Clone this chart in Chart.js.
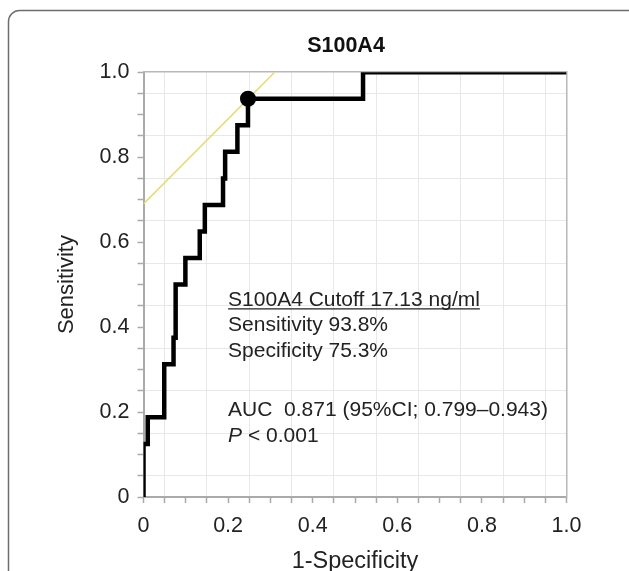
<!DOCTYPE html>
<html>
<head>
<meta charset="UTF-8">
<title>S100A4 ROC</title>
<script src="https://cdn.jsdelivr.net/npm/chart.js"></script>
<style>
  body { margin:0; background:#fff; }
  #wrap { width:629px; height:571px; }
</style>
</head>
<body>
<div id="wrap"><canvas id="canvas" width="629" height="571"></canvas></div>
<script>
// ROC curve corners (1-specificity, sensitivity)
const fpr = [0, 0, 0.01, 0.01, 0.049, 0.049, 0.071, 0.071, 0.076, 0.076, 0.099, 0.099,
             0.133, 0.133, 0.145, 0.145, 0.188, 0.188, 0.193, 0.193, 0.222, 0.222,
             0.247, 0.247, 0.519, 0.519, 1];
const tpr = [0, 0.125, 0.125, 0.1875, 0.1875, 0.3125, 0.3125, 0.375, 0.375, 0.5, 0.5, 0.5625,
             0.5625, 0.625, 0.625, 0.6875, 0.6875, 0.75, 0.75, 0.8125, 0.8125, 0.875,
             0.875, 0.9375, 0.9375, 1, 1];
// cutoff point
const cutX = [0.247];
const cutY = [0.9375];
// tangent (slope 1) through the cutoff
const tanX = [0, 0.31];
const tanY = [0.69, 1.0];
// labelled ticks
const tickVals = [0, 0.2, 0.4, 0.6, 0.8, 1.0];
const tickLabels = ['0', '0.2', '0.4', '0.6', '0.8', '1.0'];
// annotation
const noteLines = ['S100A4 Cutoff 17.13 ng/ml', 'Sensitivity 93.8%', 'Specificity 75.3%',
                   'AUC  0.871 (95%CI; 0.799\u20130.943)', 'P < 0.001'];

const FONT = '"Liberation Sans", Arial, sans-serif';
Chart.defaults.font.family = FONT;
Chart.defaults.color = '#222';

const toXY = (xs, ys) => xs.map((x, i) => ({x: x, y: ys[i]}));

function tickLabel(v) {
  const k = tickVals.findIndex(t => Math.abs(t - v) < 1e-6);
  return k < 0 ? '' : tickLabels[k];
}
// light grid only on the x.x5 lines
function gridColor(c) {
  if (!c.tick) return 'rgba(0,0,0,0)';
  return Math.round(c.tick.value * 100) % 10 === 5 ? '#e8e8e8' : 'rgba(0,0,0,0)';
}

const framePlugin = {
  id: 'frame',
  beforeDraw(chart) {
    const ctx = chart.ctx;
    const x = 8.5, y = 10.5, r = 11, w = 700, h = 700;
    ctx.save();
    ctx.strokeStyle = '#6e6e6e';
    ctx.lineWidth = 1.5;
    ctx.beginPath();
    ctx.moveTo(x, y + h);
    ctx.lineTo(x, y + r);
    ctx.arcTo(x, y, x + r, y, r);
    ctx.lineTo(x + w, y);
    ctx.stroke();
    ctx.restore();
  }
};

const notePlugin = {
  id: 'note',
  afterDraw(chart) {
    const ctx = chart.ctx;
    const x0 = chart.scales.x.getPixelForValue(0.2);
    const y0 = chart.scales.y.getPixelForValue(0.45);
    const offs = [0, 25.5, 51, 110.5, 136];
    ctx.save();
    ctx.fillStyle = '#222';
    ctx.textBaseline = 'alphabetic';
    noteLines.forEach((s, i) => {
      const y = y0 + offs[i];
      if (s.startsWith('P ')) {
        ctx.font = 'italic 21px ' + FONT;
        ctx.fillText('P', x0, y);
        const w = ctx.measureText('P').width;
        ctx.font = '21px ' + FONT;
        ctx.fillText(s.slice(1), x0 + w, y);
      } else {
        ctx.font = '21px ' + FONT;
        ctx.fillText(s, x0, y);
      }
      if (i === 0) {
        const w = ctx.measureText(s).width;
        ctx.strokeStyle = '#222';
        ctx.lineWidth = 1.3;
        ctx.beginPath();
        ctx.moveTo(x0, y + 3);
        ctx.lineTo(x0 + w, y + 3);
        ctx.stroke();
      }
    });
    ctx.restore();
  }
};

new Chart(document.getElementById('canvas'), {
  type: 'scatter',
  data: {
    datasets: [
      {data: toXY(cutX, cutY), pointRadius: 8, pointBackgroundColor: '#000', pointBorderWidth: 0, order: 0},
      {data: toXY(fpr, tpr), showLine: true, borderColor: '#000', borderWidth: 4.5,
       borderJoinStyle: 'miter', pointRadius: 0, clip: 0, order: 1},
      {data: toXY(tanX, tanY), showLine: true, borderColor: '#e6dc6e', borderWidth: 1.5,
       pointRadius: 0, clip: 0, order: 2}
    ]
  },
  options: {
    responsive: false,
    animation: false,
    devicePixelRatio: 1,
    layout: {padding: {left: 63, right: 0, top: 0, bottom: 0}},
    plugins: {
      legend: {display: false},
      tooltip: {enabled: false},
      title: {display: true, text: 'S100A4', color: '#111',
              font: {size: 21.5, weight: 'bold'}, padding: {top: 33, bottom: 13.4}}
    },
    scales: {
      x: {
        type: 'linear', position: 'bottom', min: 0, max: 1,
        ticks: {stepSize: 0.05, autoSkip: false, maxRotation: 0, minRotation: 0,
                padding: 10, font: {size: 21.5}, color: '#222', callback: tickLabel},
        grid: {color: gridColor, tickColor: '#aaa', tickLength: 6, tickWidth: 1.5},
        border: {color: '#aaa', width: 2},
        title: {display: true, text: '1-Specificity', color: '#222', font: {size: 23.5},
                padding: {top: 0, bottom: -5}},
        afterFit(s) { s.height = 74; }
      },
      y: {
        type: 'linear', position: 'left', min: 0, max: 1,
        ticks: {stepSize: 0.05, autoSkip: false, padding: 8, font: {size: 21.5},
                color: '#222', callback: tickLabel},
        grid: {color: gridColor, tickColor: '#aaa', tickLength: 6, tickWidth: 1.5},
        border: {color: '#aaa', width: 2},
        title: {display: true, text: 'Sensitivity', color: '#222', font: {size: 22},
                padding: {top: -9, bottom: 0}},
        afterFit(s) { s.width = 80.5; }
      },
      x2: {
        type: 'linear', position: 'top', min: 0, max: 1,
        ticks: {display: false}, grid: {display: false},
        border: {color: '#b8b8b8', width: 1.5},
        afterFit(s) { s.height = 0; }
      },
      y2: {
        type: 'linear', position: 'right', min: 0, max: 1,
        ticks: {display: false}, grid: {display: false},
        border: {color: '#b8b8b8', width: 1.5},
        afterFit(s) { s.width = 62.5; }
      }
    }
  },
  plugins: [framePlugin, notePlugin]
});
</script>
</body>
</html>
